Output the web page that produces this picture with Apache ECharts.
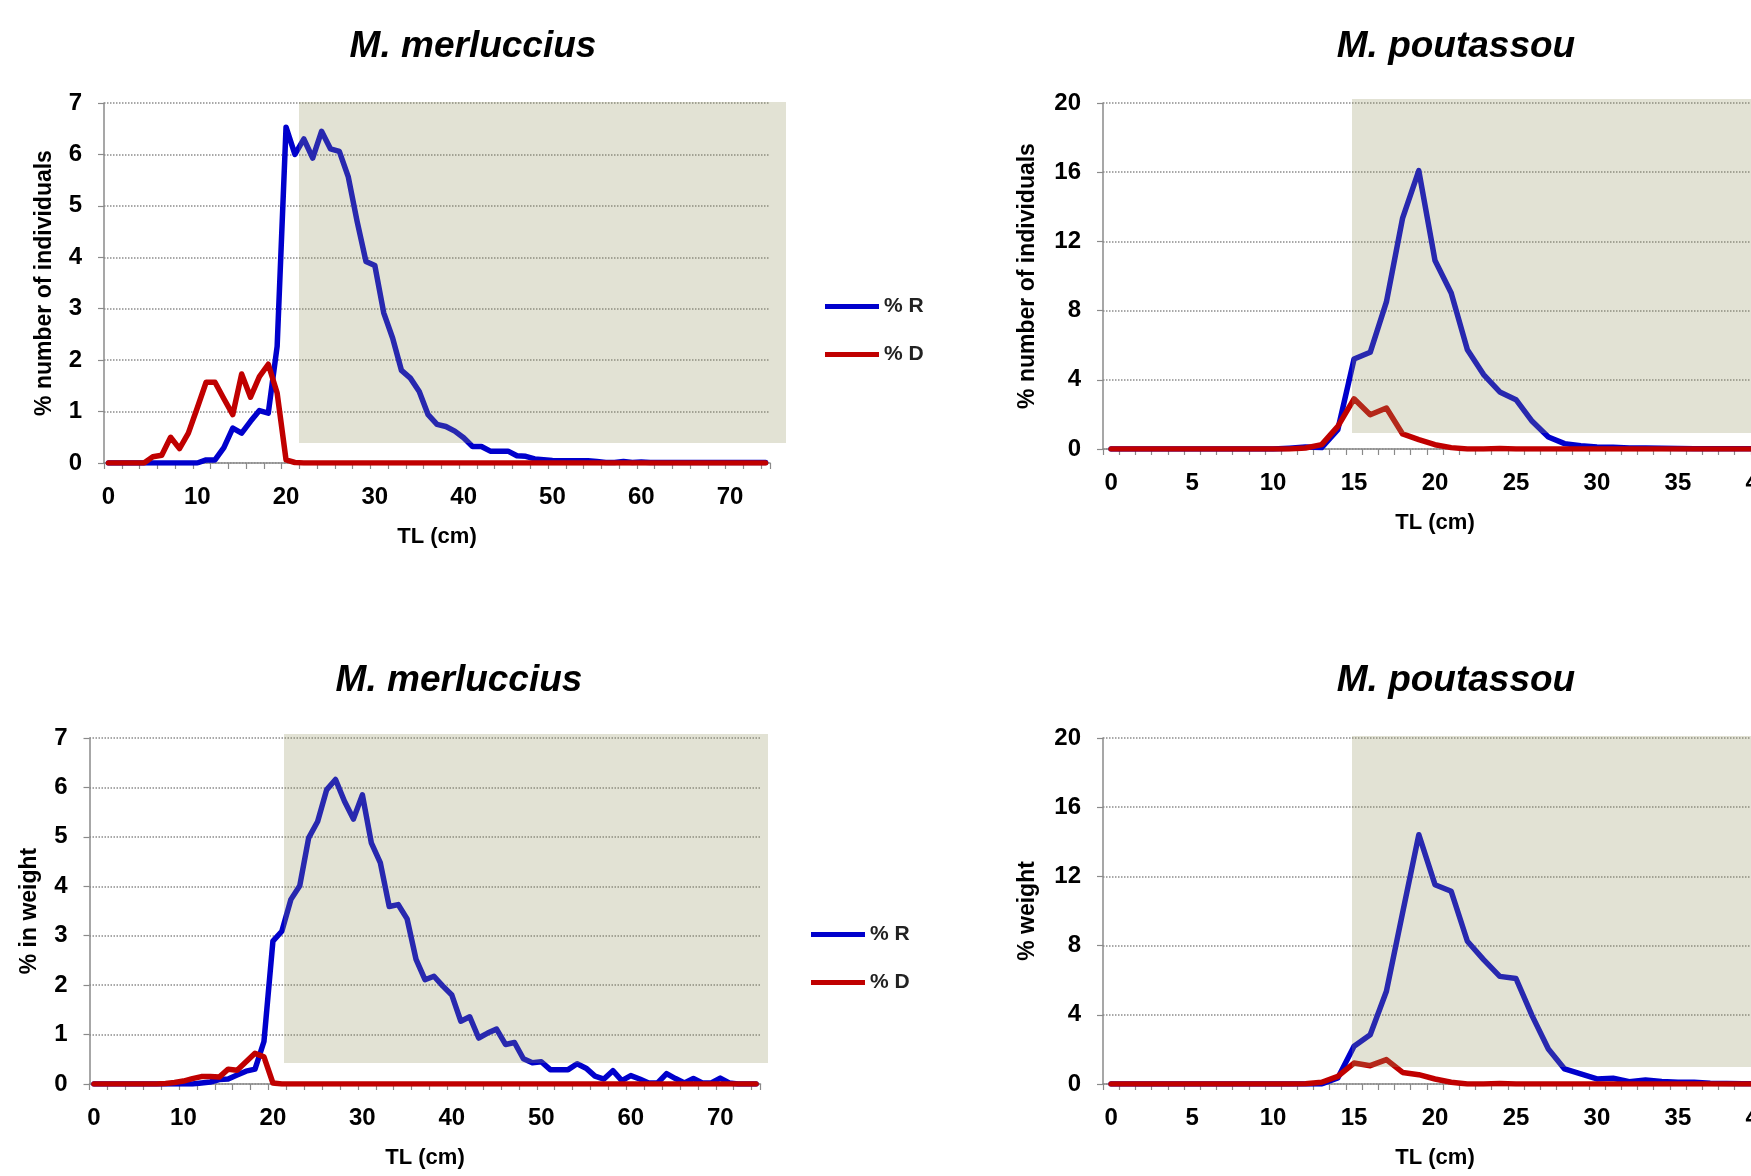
<!DOCTYPE html>
<html>
<head>
<meta charset="utf-8">
<title>M. merluccius / M. poutassou</title>
<script src="https://cdn.jsdelivr.net/npm/echarts@6/dist/echarts.min.js"></script>
<style>
  html, body { margin: 0; padding: 0; background: #fff; }
  #chart { width: 1751px; height: 1176px; }
</style>
</head>
<body>
<div id="chart"></div>
<script>
// length classes (TL, cm)
const lengthsMerl = [
  0, 1, 2, 3, 4, 5, 6, 7, 8, 9, 10, 11, 12, 13, 14, 15, 16, 17, 18, 19,
  20, 21, 22, 23, 24, 25, 26, 27, 28, 29, 30, 31, 32, 33, 34, 35, 36, 37, 38, 39,
  40, 41, 42, 43, 44, 45, 46, 47, 48, 49, 50, 51, 52, 53, 54, 55, 56, 57, 58, 59,
  60, 61, 62, 63, 64, 65, 66, 67, 68, 69, 70, 71, 72, 73, 74
]
const lengthsPout = [
  0, 1, 2, 3, 4, 5, 6, 7, 8, 9, 10, 11, 12, 13, 14, 15, 16, 17, 18, 19,
  20, 21, 22, 23, 24, 25, 26, 27, 28, 29, 30, 31, 32, 33, 34, 35, 36, 37, 38, 39, 40
]

// M. merluccius, % number of individuals
const nRMerl = [
  0, 0, 0, 0, 0, 0, 0, 0, 0, 0,
  0, 0.06, 0.06, 0.3, 0.68, 0.58, 0.81, 1.02, 0.97, 2.27,
  6.53, 6.0, 6.3, 5.93, 6.45, 6.11, 6.06, 5.57, 4.7, 3.92,
  3.84, 2.92, 2.43, 1.8, 1.65, 1.39, 0.94, 0.75, 0.71, 0.62,
  0.49, 0.32, 0.32, 0.23, 0.23, 0.23, 0.14, 0.13, 0.08, 0.065,
  0.05, 0.045, 0.045, 0.045, 0.045, 0.03, 0.01, 0.01, 0.03, 0.01,
  0.02, 0.01, 0.01, 0.01, 0.01, 0.01, 0.01, 0.01, 0.01, 0.01,
  0.01, 0.01, 0.01, 0.01, 0.01
]
const nDMerl = [
  0, 0, 0, 0, 0, 0.12, 0.15, 0.5, 0.28, 0.58,
  1.07, 1.57, 1.57, 1.25, 0.94, 1.73, 1.28, 1.68, 1.92, 1.36,
  0.06, 0.01, 0, 0, 0, 0, 0, 0, 0, 0,
  0, 0, 0, 0, 0, 0, 0, 0, 0, 0,
  0, 0, 0, 0, 0, 0, 0, 0, 0, 0,
  0, 0, 0, 0, 0, 0, 0, 0, 0, 0,
  0, 0, 0, 0, 0, 0, 0, 0, 0, 0,
  0, 0, 0, 0, 0
]

// M. merluccius, % in weight
const wRMerl = [
  0, 0, 0, 0, 0, 0, 0, 0, 0, 0,
  0, 0, 0.02, 0.04, 0.09, 0.1, 0.18, 0.26, 0.3, 0.86,
  2.89, 3.09, 3.73, 4.01, 4.98, 5.31, 5.95, 6.16, 5.72, 5.36,
  5.85, 4.88, 4.48, 3.59, 3.63, 3.34, 2.52, 2.11, 2.18, 1.98,
  1.8, 1.27, 1.36, 0.93, 1.03, 1.11, 0.8, 0.84, 0.51, 0.43,
  0.45, 0.29, 0.29, 0.29, 0.41, 0.32, 0.16, 0.1, 0.27, 0.07,
  0.17, 0.1, 0.02, 0.02, 0.21, 0.11, 0.02, 0.11, 0.02, 0.02,
  0.12, 0.02, 0, 0, 0
]
const wDMerl = [
  0, 0, 0, 0, 0, 0, 0, 0, 0.01, 0.03,
  0.06, 0.11, 0.15, 0.15, 0.14, 0.3, 0.28, 0.45, 0.62, 0.55,
  0.02, 0, 0, 0, 0, 0, 0, 0, 0, 0,
  0, 0, 0, 0, 0, 0, 0, 0, 0, 0,
  0, 0, 0, 0, 0, 0, 0, 0, 0, 0,
  0, 0, 0, 0, 0, 0, 0, 0, 0, 0,
  0, 0, 0, 0, 0, 0, 0, 0, 0, 0,
  0, 0, 0, 0, 0
]

// M. poutassou, % number of individuals
const nRPout = [
  0, 0, 0, 0, 0, 0, 0, 0, 0, 0,
  0, 0.05, 0.12, 0.08, 1.12, 5.2, 5.59, 8.5, 13.35, 16.09,
  10.9, 9.02, 5.74, 4.3, 3.3, 2.85, 1.6, 0.69, 0.31, 0.19,
  0.12, 0.1, 0.06, 0.06, 0.04, 0.03, 0.02, 0.02, 0.01, 0.01,
  0.01
]
const nDPout = [
  0, 0, 0, 0, 0, 0, 0, 0, 0, 0,
  0, 0, 0.06, 0.25, 1.31, 2.9, 1.98, 2.37, 0.87, 0.54,
  0.25, 0.08, 0, 0, 0.03, 0, 0, 0, 0, 0,
  0, 0, 0, 0, 0, 0, 0, 0, 0, 0,
  0
]

// M. poutassou, % weight
const wRPout = [
  0, 0, 0, 0, 0, 0, 0, 0, 0, 0,
  0, 0, 0, 0, 0.35, 2.18, 2.85, 5.36, 9.9, 14.41,
  11.52, 11.14, 8.25, 7.19, 6.22, 6.1, 3.94, 2.02, 0.87, 0.58,
  0.29, 0.33, 0.13, 0.23, 0.15, 0.1, 0.1, 0.05, 0.03, 0.02,
  0.02
]
const wDPout = [
  0, 0, 0, 0, 0, 0, 0, 0, 0, 0,
  0, 0, 0.02, 0.1, 0.44, 1.21, 1.06, 1.41, 0.67, 0.54,
  0.29, 0.1, 0, 0, 0.03, 0, 0, 0, 0, 0,
  0, 0, 0, 0, 0, 0, 0, 0, 0, 0,
  0
]

const FONT = "'Liberation Sans', Arial, sans-serif"
const BLUE = '#0000CC'
const RED = '#C00000'
const AXIS = '#8a8a8a'

const panels = [
  {
    title: 'M. merluccius', titleX: 473, titleY: 28,
    grid: { left: 104, top: 103, width: 666, height: 360 },
    cats: lengthsMerl, r: nRMerl, d: nDMerl,
    max: 7, step: 1, labelEvery: 9, tickEvery: 1,
    yName: '% number of individuals', yGap: 48,
    shade: { x: 299, y: 102, width: 487, height: 341 }
  },
  {
    title: 'M. poutassou', titleX: 1456, titleY: 28,
    grid: { left: 1103, top: 103, width: 664, height: 346 },
    cats: lengthsPout, r: nRPout, d: nDPout,
    max: 20, step: 4, labelEvery: 4, tickEvery: 0,
    yName: '% number of individuals', yGap: 64,
    shade: { x: 1352, y: 99, width: 420, height: 334 }
  },
  {
    title: 'M. merluccius', titleX: 459, titleY: 662,
    grid: { left: 89.5, top: 738, width: 671, height: 346 },
    cats: lengthsMerl, r: wRMerl, d: wDMerl,
    max: 7, step: 1, labelEvery: 9, tickEvery: 1,
    yName: '% in weight', yGap: 48,
    shade: { x: 284, y: 734, width: 484, height: 329 }
  },
  {
    title: 'M. poutassou', titleX: 1456, titleY: 662,
    grid: { left: 1103, top: 738, width: 664, height: 346 },
    cats: lengthsPout, r: wRPout, d: wDPout,
    max: 20, step: 4, labelEvery: 4, tickEvery: 0,
    yName: '% weight', yGap: 64,
    shade: { x: 1352, y: 736, width: 420, height: 331 }
  }
]

const chart = echarts.init(document.getElementById('chart'), null, { renderer: 'canvas' })

const lineSeries = (name, data, color, idx) => ({
  name: name,
  type: 'line',
  xAxisIndex: idx,
  yAxisIndex: idx,
  data: data,
  symbol: 'none',
  showSymbol: false,
  lineStyle: { color: color, width: 5.5, join: 'round', cap: 'round' },
  itemStyle: { color: color },
  z: 2
})

const legendAt = (left, top) => ({
  data: ['% R', '% D'],
  orient: 'vertical',
  left: left,
  top: top,
  icon: 'rect',
  itemWidth: 54,
  itemHeight: 5,
  itemGap: 27,
  selectedMode: false,
  textStyle: { fontFamily: FONT, fontWeight: 'bold', fontSize: 21, color: '#222' }
})

chart.setOption({
  animation: false,
  backgroundColor: '#fff',
  textStyle: { fontFamily: FONT },
  title: panels.map(p => ({
    text: p.title,
    left: p.titleX,
    top: p.titleY,
    textAlign: 'center',
    padding: 0,
    textStyle: { fontFamily: FONT, fontSize: 37, fontWeight: 'bold', fontStyle: 'italic', color: '#000' }
  })),
  legend: [legendAt(820, 291), legendAt(806, 919)],
  // right-hand panels run past the page edge, as in the cropped original
  grid: panels.map(p => Object.assign({ containLabel: false, outerBoundsMode: 'none' }, p.grid)),
  xAxis: panels.map((p, i) => ({
    type: 'category',
    gridIndex: i,
    data: p.cats,
    boundaryGap: true,
    name: 'TL (cm)',
    nameLocation: 'middle',
    nameGap: 63,
    nameTextStyle: { fontFamily: FONT, fontWeight: 'bold', fontSize: 22, color: '#000' },
    axisLine: { lineStyle: { color: AXIS, width: 1.5 } },
    axisTick: { show: true, interval: p.tickEvery, alignWithLabel: false, length: 6, lineStyle: { color: AXIS, width: 1.2 } },
    axisLabel: { interval: p.labelEvery, margin: 22, fontFamily: FONT, fontWeight: 'bold', fontSize: 24, color: '#000' },
    splitLine: { show: false }
  })),
  yAxis: panels.map((p, i) => ({
    type: 'value',
    gridIndex: i,
    min: 0,
    max: p.max,
    interval: p.step,
    name: p.yName,
    nameLocation: 'middle',
    nameGap: p.yGap,
    nameTextStyle: { fontFamily: FONT, fontWeight: 'bold', fontSize: 23, color: '#000' },
    axisLine: { show: true, lineStyle: { color: AXIS, width: 1.5 } },
    axisTick: { show: true, length: 6, lineStyle: { color: AXIS, width: 1.2 } },
    axisLabel: { margin: 22, fontFamily: FONT, fontWeight: 'bold', fontSize: 24, color: '#000' },
    splitLine: { show: true, lineStyle: { color: '#8c8c8c', type: 'dotted', width: 1.5 } }
  })),
  series: panels.flatMap((p, i) => [
    lineSeries('% R', p.r, BLUE, i),
    lineSeries('% D', p.d, RED, i)
  ]),
  // translucent shaded band drawn over the curves
  graphic: panels.map(p => ({
    type: 'rect',
    silent: true,
    z: 100,
    shape: p.shade,
    style: { fill: 'rgba(148,148,96,0.27)' }
  }))
})
</script>
</body>
</html>
